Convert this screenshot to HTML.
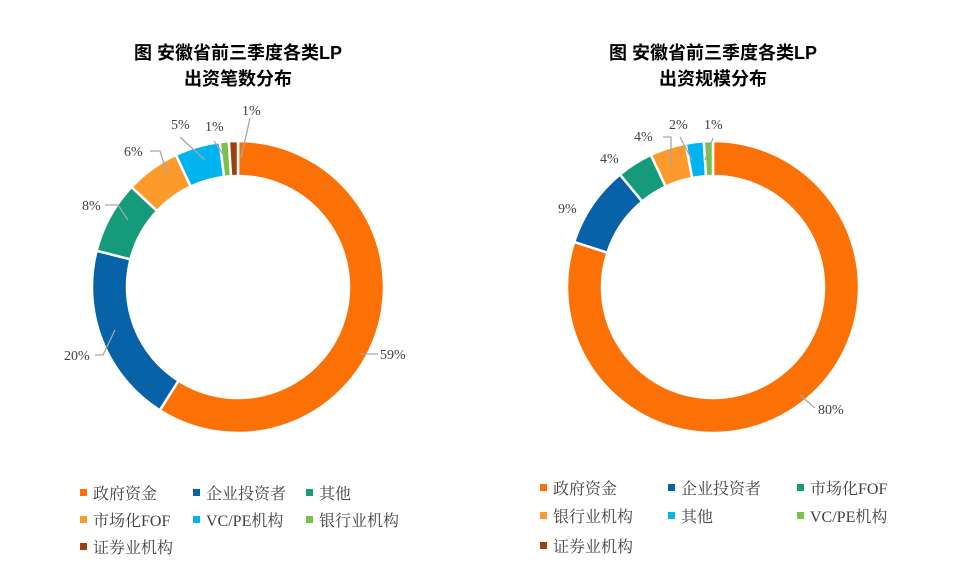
<!DOCTYPE html>
<html><head><meta charset="utf-8"><style>
body{margin:0;background:#fff;width:968px;height:566px;overflow:hidden}
svg text{font-family:"Liberation Serif","Noto Serif CJK SC",serif}
.t{font-family:"Liberation Sans","Noto Sans CJK SC",sans-serif!important;font-weight:bold;font-size:18px;fill:#000}
.l{font-size:14px;fill:#404040}
.g{font-size:16px;fill:#404040}
</style></head><body>
<svg id="s" width="968" height="566" xmlns="http://www.w3.org/2000/svg">
<text class="t" x="238" y="59" text-anchor="middle">图  安徽省前三季度各类LP</text>
<text class="t" x="238" y="85" text-anchor="middle">出资笔数分布</text>
<text class="t" x="713" y="59" text-anchor="middle">图  安徽省前三季度各类LP</text>
<text class="t" x="713" y="85" text-anchor="middle">出资规模分布</text>
<g id="c1"></g><g id="c2"></g>
<g stroke="#a6a6a6" stroke-width="1.3" fill="none">
<polyline points="360,354 378,354"/>
<polyline points="95,355 103,355 115,330"/>
<polyline points="105,205 118,205 128,220"/>
<polyline points="150,151 160,151 167,173"/>
<polyline points="180,137 205,160"/>
<polyline points="214,141 225,157"/>
<polyline points="250,118 241,158"/>
<polyline points="800,395 815,408"/>
<polyline points="663,137 671,137 671,166"/>
<polyline points="680,137 692,160"/>
<polyline points="713,138 705,160"/>
</g>
<g class="l">
<text x="380" y="359">59%</text>
<text x="64" y="360">20%</text>
<text x="82" y="210">8%</text>
<text x="124" y="156">6%</text>
<text x="171" y="129">5%</text>
<text x="205" y="131">1%</text>
<text x="242" y="115">1%</text>
<text x="818" y="414">80%</text>
<text x="558" y="213">9%</text>
<text x="600" y="163">4%</text>
<text x="634" y="141">4%</text>
<text x="669" y="129">2%</text>
<text x="704" y="129">1%</text>
</g>
<g class="g" id="leg"></g>
</svg>
<script>
var NS="http://www.w3.org/2000/svg";
function ring(id,cx,cy,R,r,data){
 var g=document.getElementById(id),a=0;
 data.forEach(function(d){
  var a0=a*3.6*Math.PI/180,a1=(a+d[0])*3.6*Math.PI/180;a+=d[0];
  var p=function(rad,ang){return [cx+rad*Math.sin(ang),cy-rad*Math.cos(ang)]};
  var lg=(a1-a0)>Math.PI?1:0;
  var A=p(R,a0),B=p(R,a1),C=p(r,a1),D=p(r,a0);
  var e=document.createElementNS(NS,"path");
  e.setAttribute("d","M"+A+" A"+R+","+R+" 0 "+lg+" 1 "+B+" L"+C+" A"+r+","+r+" 0 "+lg+" 0 "+D+"Z");
  e.setAttribute("fill",d[1]);e.setAttribute("stroke","#fff");e.setAttribute("stroke-width","2.5");
  g.appendChild(e);
 });
}
var OR="#fc7106",BL="#0862a8",TE="#159a7c",LO="#fd9a2d",CY="#00b5ef",GR="#77c24a",BR="#9a4310";
ring("c1",238,287,146,111,[[59,OR],[20,BL],[8,TE],[6,LO],[5,CY],[1,GR],[1,BR]]);
ring("c2",713,287,146,111,[[80,OR],[9,BL],[4,TE],[4,LO],[2,CY],[1,GR]]);
var leg=document.getElementById("leg");
function item(x,y,c,t){
 var r=document.createElementNS(NS,"rect");r.setAttribute("x",x);r.setAttribute("y",y-10);r.setAttribute("width",7);r.setAttribute("height",7);r.setAttribute("fill",c);leg.appendChild(r);
 var tx=document.createElementNS(NS,"text");tx.setAttribute("x",x+13);tx.setAttribute("y",y);tx.textContent=t;leg.appendChild(tx);
}
item(80,499,OR,"政府资金");item(193,499,BL,"企业投资者");item(306,499,TE,"其他");
item(80,526,LO,"市场化FOF");item(193,526,CY,"VC/PE机构");item(306,526,GR,"银行业机构");
item(80,553,BR,"证券业机构");
item(540,494,OR,"政府资金");item(668,494,BL,"企业投资者");item(797,494,TE,"市场化FOF");
item(540,522,LO,"银行业机构");item(668,522,CY,"其他");item(797,522,GR,"VC/PE机构");
item(540,552,BR,"证券业机构");
</script>
</body></html>
